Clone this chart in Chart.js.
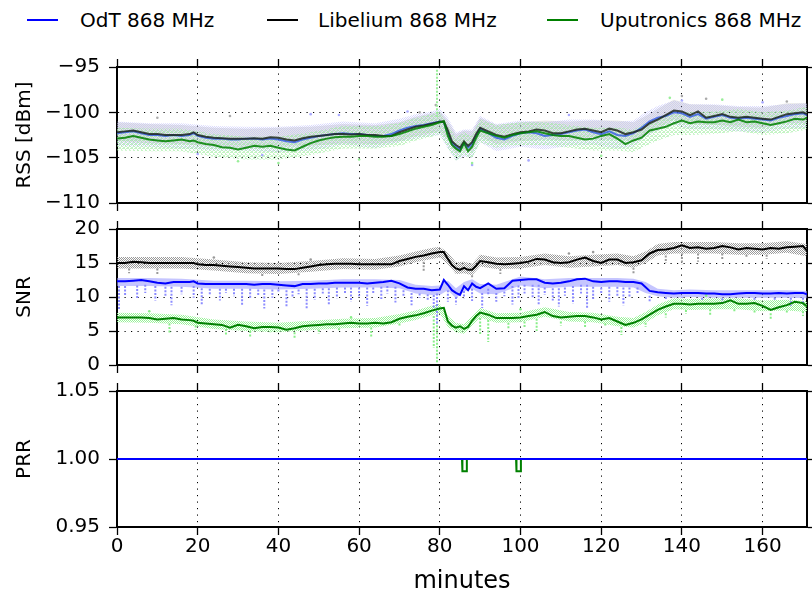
<!DOCTYPE html>
<html>
<head>
<meta charset="utf-8">
<script src="https://cdn.jsdelivr.net/npm/chart.js@4.4.1/dist/chart.umd.min.js"></script>
<style>
  html, body { margin: 0; padding: 0; background: #fff; }
  #wrap { position: relative; width: 812px; height: 596px; overflow: hidden; font-family: 'DejaVu Sans'; }
  canvas { position: absolute; left: 0; }
  .leg { position: absolute; top: 8px; font-size: 20px; line-height: 24px; color: #000; white-space: nowrap; }
  .swatch { position: absolute; top: 19px; width: 31px; height: 2px; }
</style>
</head>
<body>
<div id="wrap">
  <div class="swatch" style="left:27px;background:#0000ff"></div>
  <div class="leg" id="leg0" style="left:80px"></div>
  <div class="swatch" style="left:267px;background:#000"></div>
  <div class="leg" id="leg1" style="left:318px"></div>
  <div class="swatch" style="left:547px;background:#008000"></div>
  <div class="leg" id="leg2" style="left:600px"></div>
  <canvas id="rss" width="812" height="240" style="top:0px"></canvas>
  <canvas id="snr" width="812" height="200" style="top:190px"></canvas>
  <canvas id="prr" width="812" height="236" style="top:360px"></canvas>
</div>
<script>
const seriesNames = ['OdT 868 MHz', 'Libelium 868 MHz', 'Uputronics 868 MHz'];

// minutes for the smoothed lines
const tLine = [
  0, 2, 4, 6, 8, 10, 12, 14, 16, 18,
  19,
  20, 22, 24, 26, 28, 30, 32, 34, 36, 38, 40, 42, 44, 46, 48, 50, 52, 54, 56, 58, 60, 62, 64, 66, 68, 70, 72, 74, 76, 78, 80,
  81, 82, 83, 84, 85, 86, 87, 88, 89,
  90,
  92, 94, 96, 98, 100, 102, 104, 106, 108, 110, 112, 114, 116, 118, 120, 122, 124, 126, 128, 130,
  132, 134, 136, 138, 140, 142, 144, 146, 148, 150, 152, 154, 156, 158, 160, 162, 164, 166, 168, 170,
  171
];

const rssOdt = [
  -102.3, -102.2, -102.1, -102.3, -102.5, -102.5, -102.6, -102.5, -102.6, -102.5,
  -102.3,
  -102.6, -102.8, -102.9, -102.9, -103.0, -103.0, -102.9, -102.9, -103.0, -102.9, -103.0, -103.2, -103.3, -103.0, -102.8, -102.6,
  -102.5, -102.4, -102.3, -102.4, -102.4, -102.5, -102.6, -102.6, -102.4, -102.0, -101.7, -101.5, -101.4, -101.2, -101.0,
  -101.1, -102.3, -103.4, -103.8, -104.1, -103.4, -103.9, -103.5, -102.6,
  -101.8,
  -102.3, -102.8, -103.0, -102.6, -102.3, -102.2, -102.3, -102.6, -102.5, -102.4, -102.2, -102.0, -101.9, -102.2, -102.4, -102.1,
  -102.5, -102.6, -102.3, -101.7, -101.0, -100.6, -100.4, -100.0, -100.1, -100.5, -100.2, -100.7, -100.5, -100.3, -100.6, -100.7,
  -100.6, -100.7, -100.8, -100.9, -100.6, -100.4, -100.2, -100.1,
  -100.3
];
const rssLib = [
  -102.2, -102.1, -102.0, -102.2, -102.4, -102.4, -102.5, -102.5, -102.5, -102.4,
  -102.2,
  -102.5, -102.7, -102.8, -102.85, -102.9, -102.9, -102.9, -102.85, -102.9, -102.75, -102.8, -103.0, -103.1, -102.85, -102.7, -102.6,
  -102.5, -102.4, -102.4, -102.45, -102.4, -102.5, -102.5, -102.6, -102.6, -102.2, -101.9, -101.6, -101.45, -101.25, -101.05,
  -101.0, -102.0, -103.2, -103.6, -103.9, -103.2, -103.7, -103.3, -102.4,
  -101.7,
  -102.1, -102.5, -102.7, -102.4, -102.2, -102.1, -101.9, -102.0, -102.3, -102.3, -102.1, -101.9, -101.8, -102.0, -102.2, -101.8,
  -102.0, -102.4, -102.2, -101.9, -101.2, -100.8, -100.3, -99.8, -99.9, -100.3, -99.9, -100.6, -100.4, -100.2, -100.5, -100.6,
  -100.5, -100.6, -100.7, -100.8, -100.5, -100.2, -100.1, -100.0,
  -100.2
];
const rssUpu = [
  -102.9, -102.8, -102.6, -102.8, -103.0, -103.1, -103.2, -103.1, -103.0, -103.2,
  -103.1,
  -103.3, -103.5, -103.6, -103.85, -103.9, -104.1, -103.9, -103.7, -103.8, -103.7, -103.9, -104.1, -104.2, -103.8, -103.4, -103.1,
  -102.9, -102.75, -102.7, -102.7, -102.6, -102.6, -102.7, -102.7, -102.6, -102.4, -102.1, -101.8, -101.6, -101.4, -101.1,
  -101.0, -102.6, -103.6, -104.0, -104.3, -103.4, -104.3, -103.8, -102.8,
  -102.0,
  -102.3, -102.6, -102.8, -102.5, -102.3, -102.2, -102.1, -102.3, -102.5, -102.6, -102.6, -102.8, -103.0, -102.9, -102.6, -102.4,
  -102.9, -103.5, -103.1, -102.8, -102.0, -101.8, -101.6, -101.2, -100.9, -101.2, -101.0, -101.1, -101.1, -100.9, -101.1, -100.8,
  -101.1, -101.0, -101.2, -101.4, -101.2, -101.0, -100.7, -100.8,
  -100.6
];

const snrOdt = [
  12.3, 12.3, 12.4, 12.5, 12.3, 12.1, 12.0, 12.2, 12.2, 12.2,
  12.3,
  12.0, 11.9, 11.9, 11.9, 11.9, 11.9, 11.9, 11.8, 11.9, 11.9, 11.8, 11.7, 11.6, 11.9, 11.9, 12.0,
  12.0, 12.1, 12.1, 12.1, 12.1, 12.0, 12.1, 12.2, 12.4, 12.0, 11.4, 11.2, 11.2, 11.0, 11.1,
  12.5, 11.8, 11.0, 10.6, 10.3, 11.6, 11.0, 12.0, 11.5,
  11.3,
  12.0, 11.2, 11.3, 12.4, 12.5, 12.6, 12.6, 12.1, 12.0, 12.1, 12.3, 12.6, 12.7, 12.3, 12.2, 12.3,
  12.3, 12.2, 12.2, 12.0, 10.9, 10.7, 10.6, 10.5, 10.6, 10.6, 10.6, 10.5, 10.5, 10.4, 10.4, 10.5,
  10.6, 10.6, 10.5, 10.5, 10.6, 10.5, 10.6, 10.6,
  10.4
];
const snrLib = [
  15.0, 15.0, 15.2, 15.1, 15.0, 15.0, 15.0, 15.0, 15.0, 15.0,
  15.0,
  14.8, 14.7, 14.7, 14.6, 14.5, 14.4, 14.3, 14.2, 14.2, 14.2, 14.2, 14.1, 14.1, 14.3, 14.5, 14.7,
  14.8, 14.9, 14.9, 14.9, 14.8, 14.8, 14.8, 14.8, 14.8, 15.3, 15.6, 15.9, 16.1, 16.4, 16.6,
  16.6, 15.6, 14.7, 14.2, 14.0, 14.3, 14.0, 14.0, 14.6,
  15.3,
  15.1, 14.9, 14.8, 14.9, 15.0, 15.2, 15.6, 15.5, 15.1, 15.0, 15.1, 15.5, 15.8, 15.3, 15.0, 15.5,
  15.5, 15.0, 15.1, 15.4, 16.4, 16.9, 17.0, 17.2, 17.6, 17.2, 17.3, 17.1, 17.2, 17.5, 17.3, 17.0,
  17.2, 17.1, 17.0, 17.2, 17.1, 17.3, 17.4, 17.5,
  16.8
];
const snrUpu = [
  7.0, 7.0, 7.0, 7.0, 6.9, 6.7, 6.8, 6.9, 6.7, 6.6,
  6.5,
  6.2, 6.1, 6.0, 5.9, 5.5, 5.9, 5.7, 5.4, 5.6, 5.6, 5.5, 5.2, 5.4, 5.7, 5.8, 5.9,
  6.0, 6.0, 6.1, 6.2, 6.1, 6.1, 6.2, 6.1, 6.3, 6.8, 7.1, 7.3, 7.6, 8.0, 8.3,
  8.4, 6.4, 5.8, 5.5, 5.7, 5.3, 5.6, 6.5, 7.2,
  7.7,
  7.4, 6.9, 6.9, 6.9, 7.0, 7.2, 7.4, 7.8, 7.2, 7.0, 7.1, 7.2, 7.2, 7.0, 6.7, 6.9,
  6.4, 5.9, 6.2, 6.7, 7.4, 8.1, 8.6, 9.0, 9.0, 8.9, 9.0, 9.0, 9.0, 9.1, 9.5, 9.0,
  9.0, 9.1, 8.7, 8.1, 8.5, 8.8, 9.3, 9.1,
  8.6
];

// spread of the raw measurements (upper / lower edge of each cloud)
const tBand = [0, 8, 16, 24, 32, 40, 48, 56, 64, 70, 74, 78, 80, 82, 84, 86, 88, 90, 94, 100, 106, 112, 118, 124, 128, 131, 134, 138, 142, 148, 154, 160, 166, 171];

const rssOdtHi = [-101.0, -101.2, -101.2, -101.5, -101.6, -101.6, -101.4, -101.0, -101.2, -100.7, -100.2, -99.9, -99.6, -100.6, -102.2, -101.9, -101.9, -100.4, -101.3, -100.9, -101.1, -100.8, -100.8, -101.0, -100.9, -100.0, -99.3, -98.7, -99.1, -99.1, -99.3, -99.3, -99.1, -99.0];
const rssOdtLo = [-103.7, -103.8, -104.0, -104.2, -104.2, -104.4, -104.2, -103.6, -103.9, -103.3, -102.9, -102.6, -102.5, -104.0, -105.3, -104.9, -105.0, -103.3, -104.3, -103.8, -104.1, -103.7, -103.6, -104.0, -103.8, -102.7, -102.0, -101.4, -101.9, -101.9, -102.1, -102.2, -101.8, -101.7];
const rssLibHi = [-101.1, -101.3, -101.4, -101.7, -101.8, -101.7, -101.6, -101.3, -101.4, -101.1, -100.5, -100.1, -99.9, -100.9, -102.4, -102.0, -102.1, -100.6, -101.4, -101.1, -100.9, -101.0, -100.9, -100.9, -101.1, -100.4, -99.6, -98.6, -99.1, -99.2, -99.4, -99.5, -99.0, -99.0];
const rssLibLo = [-103.2, -103.4, -103.5, -103.8, -103.9, -103.8, -103.7, -103.4, -103.5, -103.2, -102.6, -102.3, -102.1, -103.0, -104.6, -104.2, -104.3, -102.7, -103.5, -103.2, -103.0, -103.1, -103.0, -103.0, -103.2, -102.5, -101.8, -100.8, -101.3, -101.4, -101.6, -101.7, -101.2, -101.2];
const rssUpuHi = [-101.7, -101.8, -101.8, -102.4, -102.7, -102.7, -102.2, -101.5, -101.5, -101.2, -100.6, -100.2, -99.9, -101.4, -102.8, -102.2, -102.6, -100.8, -101.4, -101.1, -101.1, -101.4, -101.7, -101.7, -101.9, -101.2, -100.6, -100.0, -100.0, -99.9, -99.6, -100.0, -99.8, -99.4];
const rssUpuLo = [-104.2, -104.3, -104.3, -104.9, -105.2, -105.2, -104.7, -104.0, -104.0, -103.7, -103.1, -102.7, -102.4, -103.9, -105.3, -104.7, -105.1, -103.3, -103.9, -103.6, -103.6, -103.9, -104.2, -104.2, -104.4, -103.7, -103.1, -102.5, -102.5, -102.4, -102.1, -102.5, -102.3, -101.9];

const snrOdtHi = [12.8, 12.8, 12.7, 12.4, 12.4, 12.3, 12.4, 12.6, 12.6, 12.5, 11.8, 11.6, 11.7, 12.4, 11.3, 12.2, 12.6, 11.9, 11.8, 13.0, 12.6, 12.8, 12.8, 12.8, 12.7, 12.2, 11.2, 11.0, 11.1, 11.0, 11.0, 11.0, 11.0, 10.9];
const snrOdtLo = [11.6, 11.6, 11.5, 11.2, 11.2, 11.1, 11.2, 11.4, 11.4, 11.3, 10.5, 10.3, 10.3, 11.0, 9.8, 10.8, 11.2, 10.5, 10.4, 11.7, 11.3, 11.5, 11.5, 11.5, 11.4, 10.6, 10.1, 9.9, 10.0, 9.9, 9.9, 9.9, 9.9, 9.8];
const snrLibHi = [15.9, 15.9, 15.9, 15.5, 15.1, 15.0, 15.3, 15.7, 15.6, 16.1, 16.7, 17.2, 17.4, 16.5, 15.1, 15.2, 14.9, 16.2, 15.8, 15.9, 16.4, 16.0, 16.2, 16.4, 16.0, 16.7, 17.8, 18.1, 18.1, 18.1, 17.9, 17.9, 18.2, 17.8];
const snrLibLo = [14.2, 14.2, 14.2, 13.9, 13.5, 13.4, 13.7, 14.1, 14.0, 14.5, 15.1, 15.6, 15.8, 14.8, 13.4, 13.5, 13.2, 14.5, 14.1, 14.2, 14.7, 14.3, 14.5, 14.7, 14.3, 15.0, 16.1, 16.4, 16.4, 16.4, 16.2, 16.2, 16.5, 16.0];
const snrUpuHi = [7.7, 7.6, 7.4, 6.7, 6.4, 6.2, 6.5, 6.8, 6.9, 7.5, 8.0, 8.7, 9.0, 7.2, 6.2, 6.0, 7.2, 8.4, 7.6, 7.7, 8.5, 7.8, 7.7, 7.1, 6.9, 7.8, 8.9, 9.8, 9.7, 9.8, 9.8, 9.5, 9.6, 9.4];
const snrUpuLo = [6.3, 6.2, 6.0, 5.3, 5.0, 4.8, 5.1, 5.4, 5.5, 6.1, 6.6, 7.3, 7.6, 5.6, 4.8, 4.6, 5.8, 7.0, 6.2, 6.3, 7.1, 6.4, 6.3, 5.7, 5.5, 6.2, 7.3, 8.2, 8.1, 8.2, 8.2, 7.9, 8.0, 7.8];

// runs of raw samples dropping away from the cloud: [minute, from, to]
const snrOdtDrops = [
  [0.5, 11.6, 8.2], [2, 11.6, 10.3], [5, 11.7, 9.8], [7, 11.8, 10.6], [9.5, 11.6, 9.5], [12, 11.5, 10.2], [13.5, 11.5, 8.8], [16, 11.5, 10.4], [19, 11.6, 9.9],
  [21, 11.3, 8.9], [23, 11.2, 10.3], [25.5, 11.2, 9.5], [27, 11.2, 10.6], [29, 11.2, 10.1], [31, 11.2, 8.7], [33, 11.2, 9.7], [35, 11.1, 10.3], [36.5, 11.1, 8.3], [38.5, 11.1, 9.9], [40, 11.1, 10.6],
  [42, 11.0, 8.6], [43.5, 10.9, 9.9], [45, 11.1, 10.4], [47, 11.2, 8.2], [49, 11.2, 9.6], [51, 11.3, 10.5], [52.5, 11.3, 8.9], [54.5, 11.4, 9.8], [56.5, 11.4, 10.4], [58, 11.4, 9.3], [60, 11.4, 10.1],
  [62, 11.4, 8.7], [63.5, 11.4, 10.4], [65.5, 11.5, 9.7], [67, 11.6, 10.5], [69, 11.5, 9.2], [71, 11.0, 10.0], [73, 10.6, 8.8], [75, 10.5, 9.9], [77, 10.4, 9.4], [78.5, 10.3, 8.3], [79.3, 10.5, 6.0],
  [82, 11.0, 9.3], [84, 10.0, 8.9], [86, 10.9, 9.8], [88, 11.2, 9.4], [90.5, 10.6, 8.4], [92, 11.2, 10.2], [94, 10.6, 9.3], [96, 10.8, 10.1], [98, 11.6, 8.9], [99.5, 11.7, 9.7],
  [101, 11.8, 10.5], [103, 11.8, 9.8], [104.5, 11.8, 8.7], [106, 11.4, 10.3], [108, 11.3, 9.5], [109.5, 11.3, 8.6], [111, 11.4, 10.2], [113, 11.6, 9.0], [115, 11.8, 10.5], [116.5, 11.8, 8.2],
  [118, 11.5, 9.7], [120, 11.4, 10.5], [122, 11.5, 9.3], [124, 11.5, 10.2], [125.5, 11.4, 8.8], [127, 11.4, 9.9], [129, 11.4, 10.4],
  [132, 10.2, 9.2], [136, 10.0, 9.6], [140, 10.0, 9.9], [145, 9.9, 9.5], [150, 9.8, 9.1], [154, 9.8, 9.8], [158, 9.9, 9.6], [163, 9.9, 9.4], [167, 9.9, 8.7], [170, 9.9, 9.0]
];
const snrUpuDrops = [
  [13, 6.1, 4.6], [19.5, 5.8, 5.2], [27, 5.3, 4.5], [33, 5.0, 4.2], [38, 4.9, 4.8], [44, 4.8, 3.9], [50, 5.2, 4.6], [55, 5.4, 5.0], [63, 5.5, 4.2], [70, 6.1, 5.6],
  [78.5, 7.2, 2.5], [79.3, 7.4, 0.2], [90, 6.9, 4.5], [92, 6.6, 3.4], [97, 6.2, 5.2], [101, 6.4, 5.6], [104, 6.8, 5.0], [110, 6.4, 5.8], [116, 6.4, 5.4], [121, 6.1, 5.6],
  [125, 5.6, 4.4], [131, 6.2, 5.6], [136, 7.6, 7.0], [141, 8.1, 7.5], [147, 8.2, 7.2], [153, 8.2, 7.8], [158, 8.0, 7.6], [162, 7.6, 6.7], [166, 8.0, 7.5], [170, 7.9, 7.2]
];
const snrLibDrops = [
  [3, 14.2, 13.5], [10, 14.2, 13.4], [36, 13.4, 13.0], [45, 13.5, 13.1], [76, 15.2, 13.8], [88, 13.2, 12.9], [95, 14.1, 13.4], [128, 14.3, 13.5],
  [136, 16.1, 15.0], [140, 16.4, 14.8], [144, 16.4, 15.2], [150, 16.4, 15.5], [156, 16.2, 15.8], [161, 16.2, 15.6]
];
const rssUpuDrops = [[79.3, -95.3, -100.5]];

// isolated raw samples outside the clouds: [minute, value]
const rssOdtDots = [[48, -100.2], [55, -100.3], [72, -99.9], [88, -105.8], [102, -105.3], [112, -100.3], [140, -98.7], [160, -98.9], [20, -104.6], [36, -104.7]];
const rssLibDots = [[28, -100.4], [75, -100.0], [79, -99.2], [140, -98.2], [146, -98.5], [166, -98.8], [10, -100.6]];
const rssUpuDots = [[60, -105.2], [40, -105.6], [30, -105.4], [88, -105.6], [120, -104.8], [137, -98.4], [150, -98.6]];
const snrLibDots = [[24, 15.8], [48, 15.5], [112, 16.4], [118, 16.6]];
const snrUpuDots = [[8, 7.9], [58, 7.0], [100, 8.2], [146, 10.2]];

const prrT = [0, 171];
const prrOdt = [1, 1];
const prrLib = [1, 1];
const prrUpuT = [0, 85.5, 85.6, 86.6, 86.7, 98.9, 99.0, 100.0, 100.1, 171];
const prrUpu = [1, 1, 0.991, 0.991, 1, 1, 0.991, 0.991, 1, 1];

seriesNames.forEach((n, i) => { document.getElementById('leg' + i).textContent = n; });

Chart.defaults.font.family = 'DejaVu Sans';
Chart.defaults.color = '#000';

// small speckle tile so the clouds read as scattered samples
function speckle(color, cells) {
  const c = document.createElement('canvas');
  c.width = 4; c.height = 4;
  const g = c.getContext('2d');
  g.fillStyle = color;
  cells.forEach(p => g.fillRect(p[0], p[1], 1, 1));
  return g.createPattern(c, 'repeat');
}

function pts(xs, ys) { return xs.map((x, i) => ({ x: x, y: ys[i] })); }

function lineSet(xs, ys, color) {
  return { data: pts(xs, ys), borderColor: color, borderWidth: 2, pointRadius: 0, fill: false, tension: 0 };
}
function dotSet(list, color) {
  return { data: list.map(p => ({ x: p[0], y: p[1] })), showLine: false, pointRadius: 1.3,
    pointBorderWidth: 0, pointBackgroundColor: color, borderColor: color, fill: false };
}
function dropSet(list, color) {
  const data = [];
  list.forEach(s => { data.push({ x: s[0], y: s[1] }, { x: s[0], y: s[2] }, { x: s[0], y: null }); });
  return { data: data, borderColor: color, borderWidth: 2, borderDash: [2, 1.5], pointRadius: 0, fill: false, spanGaps: false };
}
function bandSets(hi, lo, color) {
  return [
    { data: pts(tBand, hi), borderColor: 'rgba(0,0,0,0)', pointRadius: 0, fill: '+1', backgroundColor: color },
    { data: pts(tBand, lo), borderColor: 'rgba(0,0,0,0)', pointRadius: 0, fill: false }
  ];
}

const grid = { color: '#000', lineWidth: 1, tickLength: 8, tickColor: '#000', tickWidth: 1.3, tickBorderDash: [] };
const border = { color: '#000', width: 2, dash: [1.2, 5.3] };

function makeChart(id, datasets, y, box) {
  datasets.forEach(d => { d.xAxisID = 'x'; d.yAxisID = 'y'; });
  return new Chart(document.getElementById(id), {
    type: 'line',
    data: { datasets: datasets },
    options: {
      responsive: false,
      animation: false,
      devicePixelRatio: 1,
      layout: { padding: 0 },
      plugins: { legend: { display: false }, tooltip: { enabled: false } },
      scales: {
        x: {
          type: 'linear', position: 'bottom', min: 0, max: 171,
          ticks: { stepSize: 20, includeBounds: false, display: box.xLabels, font: { size: 20 }, padding: 0 },
          grid: grid, border: border,
          title: { display: box.xLabels, text: 'minutes', font: { size: 24 }, padding: { top: 0, bottom: 0 } },
          afterFit: s => { s.height = box.bottom; }
        },
        x2: {
          type: 'linear', position: 'top', min: 0, max: 171,
          ticks: { stepSize: 20, includeBounds: false, display: false },
          grid: Object.assign({}, grid, { drawOnChartArea: false }), border: border,
          afterFit: s => { s.height = box.top; }
        },
        y: {
          type: 'linear', position: 'left', min: y.min, max: y.max,
          ticks: { stepSize: y.step, font: { size: 20 }, padding: 9, callback: y.fmt },
          grid: grid, border: border,
          title: { display: true, text: y.title, font: { size: 20 }, padding: { top: 13, bottom: 0 } },
          afterFit: s => { s.width = 117; }
        },
        y2: {
          type: 'linear', position: 'right', min: y.min, max: y.max,
          ticks: { stepSize: y.step, display: false },
          grid: Object.assign({}, grid, { drawOnChartArea: false }), border: border,
          afterFit: s => { s.width = 5; }
        }
      }
    }
  });
}

const cellsA = [[0, 0], [2, 0], [1, 1], [3, 1], [0, 2], [2, 2], [1, 3], [3, 3]];
const cellsC = [[0, 0], [3, 0], [1, 1], [2, 2], [3, 3], [0, 3], [2, 0], [1, 2]];

makeChart('rss', [
  lineSet(tLine, rssUpu, 'rgba(0,128,0,0.85)'),
  lineSet(tLine, rssLib, 'rgba(30,40,30,0.85)'),
  lineSet(tLine, rssOdt, 'rgba(40,80,230,0.75)'),
  dropSet(rssUpuDrops, '#99ee99'),
  dotSet(rssUpuDots, '#99ee99'),
  dotSet(rssOdtDots, '#aaaaff'),
  dotSet(rssLibDots, '#aaaaaa'),
  ...bandSets(rssUpuHi, rssUpuLo, speckle('rgba(150,235,150,0.55)', cellsC)),
  ...bandSets(rssOdtHi, rssOdtLo, speckle('rgba(170,170,250,0.45)', cellsA)),
  ...bandSets(rssLibHi, rssLibLo, 'rgba(175,175,175,0.3)')
], { min: -110, max: -95, step: 5, title: 'RSS [dBm]', fmt: v => v < 0 ? '\u2212' + (-v) : String(v) },
   { top: 67, bottom: 37, xLabels: false });

makeChart('snr', [
  lineSet(tLine, snrLib, '#000'),
  lineSet(tLine, snrOdt, '#0000ff'),
  lineSet(tLine, snrUpu, '#008000'),
  dotSet(snrLibDots, '#999999'),
  dotSet(snrUpuDots, '#88ee88'),
  dropSet(snrLibDrops, '#999999'),
  dropSet(snrOdtDrops, '#8c8cff'),
  dropSet(snrUpuDrops, '#88ee88'),
  ...bandSets(snrLibHi, snrLibLo, speckle('rgba(135,135,135,0.85)', cellsA)),
  ...bandSets(snrOdtHi, snrOdtLo, 'rgba(150,150,255,0.55)'),
  ...bandSets(snrUpuHi, snrUpuLo, speckle('rgba(140,240,140,0.9)', cellsA))
], { min: 0, max: 20, step: 5, title: 'SNR', fmt: v => String(v) },
   { top: 39, bottom: 25, xLabels: false });

makeChart('prr', [
  lineSet(prrT, prrOdt, '#0000ff'),
  lineSet(prrUpuT, prrUpu, '#008000'),
  lineSet(prrT, prrLib, '#000')
], { min: 0.95, max: 1.05, step: 0.05, title: 'PRR', fmt: v => v.toFixed(2) },
   { top: 31, bottom: 69, xLabels: true });
</script>
</body>
</html>
